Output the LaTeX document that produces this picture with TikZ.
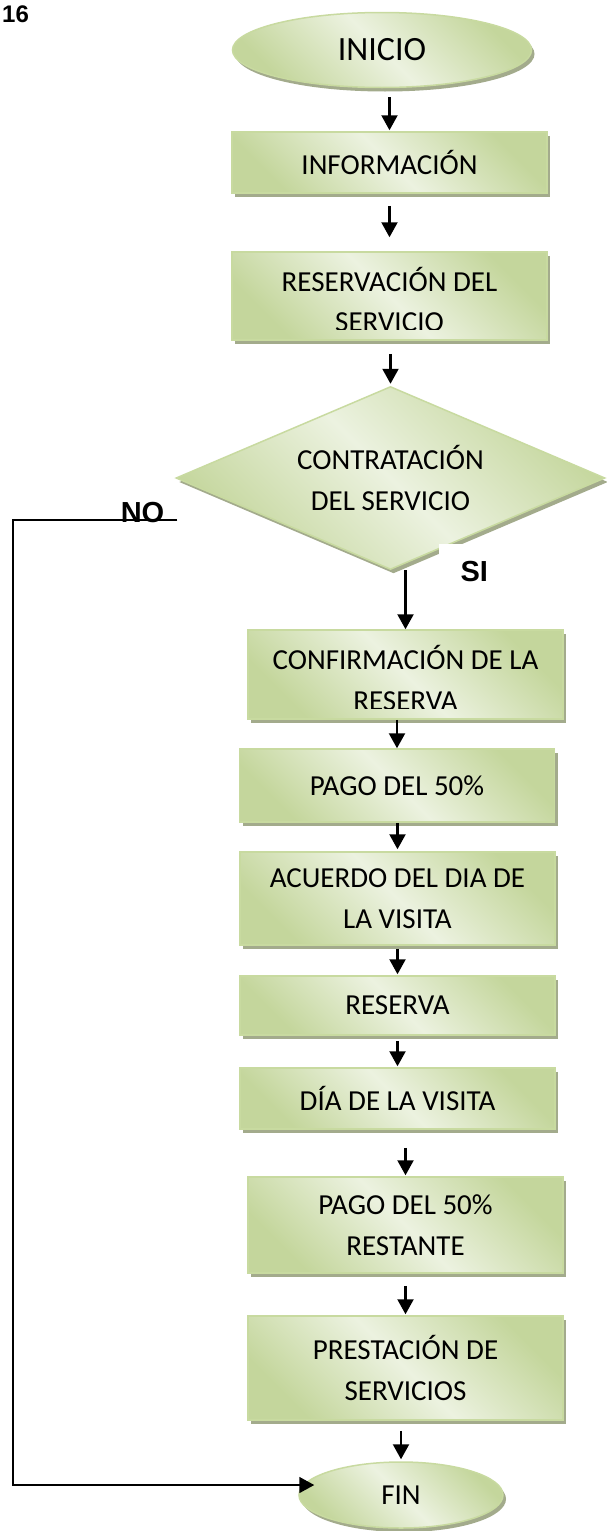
\documentclass[tikz,border=0pt]{standalone}
\usepackage{fontspec}
\setmainfont{Carlito}
\newfontfamily\arial{Liberation Sans}
\usetikzlibrary{positioning,shapes.geometric,shadows,arrows.meta,calc}
\definecolor{verdeclaro}{RGB}{236,242,224}
\definecolor{verdeoscuro}{RGB}{196,214,156}
\definecolor{borde}{RGB}{200,218,160}
\definecolor{sombra}{RGB}{163,171,140}
\tikzset{
  forma/.style={draw=borde, line width=1.5pt, top color=verdeoscuro, bottom color=verdeoscuro,
    middle color=verdeclaro, shading angle=-45,
    drop shadow={shadow xshift=3pt, shadow yshift=-4pt, fill=sombra, opacity=1},
    font=\fontsize{29}{41}\selectfont, align=center, inner sep=2pt},
  caja/.style={forma, rectangle, minimum width=315pt},
  rombo/.style={forma, diamond, shape aspect=2.34, minimum width=429pt, minimum height=183pt, inner sep=0pt},
  elipse/.style={forma, ellipse},
  texto/.style={font=\fontsize{29}{41}\selectfont, inner sep=0pt, anchor=base},
  flecha/.style={line width=2.2pt, -{Triangle[length=15pt,width=16pt]}},
  etiq/.style={font=\arial\bfseries\fontsize{29}{34}\selectfont, inner sep=0pt}
}
\begin{document}
\begin{tikzpicture}[x=1pt,y=-1pt]
  \fill[white] (0,0) rectangle (607,1531);
  \useasboundingbox (0,0) rectangle (607,1531);

  \node[etiq, font=\arial\bfseries\fontsize{24}{28}\selectfont, anchor=base west] (num) at (2,23) {16};

  \node[elipse, minimum width=299pt, minimum height=75pt, font=\fontsize{34}{40}\selectfont] (inicio) at (382,50) {INICIO};
  \node[caja, minimum height=61pt] (info) at (389.5,162.5) {INFORMACIÓN};
  \node[caja, minimum height=88pt] (reserv) at (389.5,296) {};
  \node[rombo] (contrat) at (390.5,478) {CONTRATACIÓN\\DEL SERVICIO};
  \node[caja, minimum height=89pt] (confirm) at (405.5,674.5) {};
  \node[caja, minimum height=73pt] (pago) at (397,785.5) {PAGO DEL 50\%};
  \node[caja, minimum height=93pt] (acuerdo) at (397.5,898.5) {ACUERDO DEL DIA DE\\LA VISITA};
  \node[caja, minimum height=59pt] (reserva) at (397.5,1005.5) {RESERVA};
  \node[caja, minimum height=61pt] (dia) at (397.5,1098.5) {DÍA DE LA VISITA};
  \node[caja, minimum height=96pt] (resto) at (405.5,1225) {PAGO DEL 50\%\\RESTANTE};
  \node[caja, minimum height=104pt] (prest) at (405.5,1368) {PRESTACIÓN DE\\SERVICIOS};
  \node[elipse, minimum width=204pt, minimum height=66pt, font=\fontsize{29}{34}\selectfont] (fin) at (401,1495) {FIN};

  % texte coupé en bas de la boîte
  \begin{scope}
    \clip (reserv.north west) rectangle ($(reserv.south east)+(0,-11)$);
    \node[texto] (reservl1) at ($(reserv.north)+(0,40)$) {RESERVACIÓN DEL};
    \node[texto] (reservl2) at ($(reserv.north)+(0,80)$) {SERVICIO};
  \end{scope}
  \begin{scope}
    \clip (confirm.north west) rectangle ($(confirm.south east)+(0,-11)$);
    \node[texto] (confirml1) at ($(confirm.north)+(0,40)$) {CONFIRMACIÓN DE LA};
    \node[texto] (confirml2) at ($(confirm.north)+(0,81)$) {RESERVA};
  \end{scope}

  \node[etiq, fill=white, minimum width=70pt, minimum height=55pt, anchor=north west] (si) at (439,544) {SI};

  \foreach \sa/\sb/\gi/\gf in {inicio/info/9/1, info/reserv/12/14, reserv/contrat/13/2,
      contrat/confirm/0/0, confirm/pago/0/0, pago/acuerdo/0/2, acuerdo/reserva/3/1,
      reserva/dia/5/1, dia/resto/18/1, resto/prest/12/1, prest/fin/10/2}
    \draw[flecha, shorten <=\gi pt, shorten >=\gf pt] (\sa.south -| \sb.north) -- (\sb.north);

  % rama NO
  \coordinate (nosal) at ($(contrat.west)+(2,42)$);
  \coordinate (esq) at (13,520);
  \coordinate (llegada) at ($(fin.west)+(16,-10)$);
  \draw[flecha, line width=1.7pt] (nosal) -- (esq) |- (llegada);
  \node[etiq] (no) at (142.5,512.5) {NO};
\end{tikzpicture}
\end{document}
